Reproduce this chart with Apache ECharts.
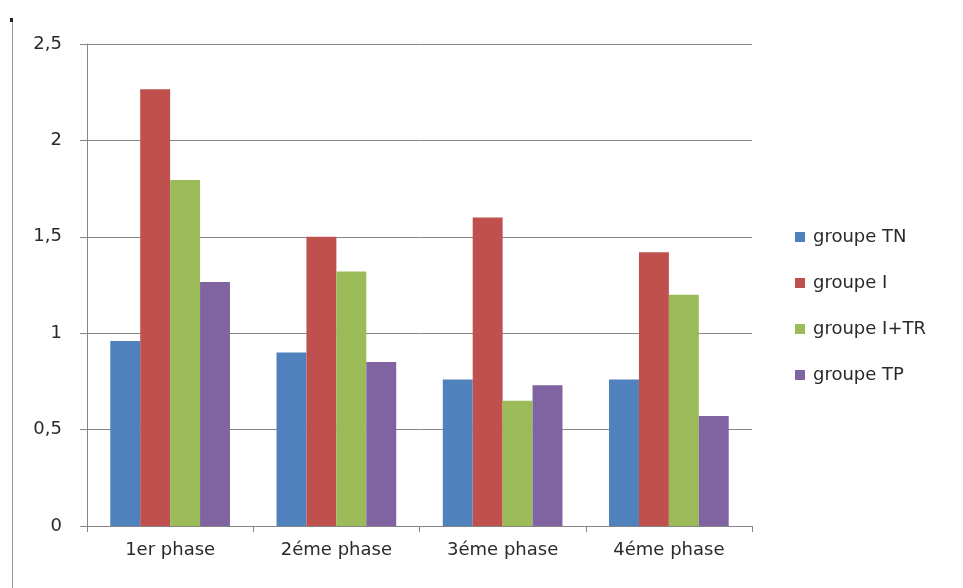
<!DOCTYPE html>
<html>
<head>
<meta charset="utf-8">
<script src="https://cdn.jsdelivr.net/npm/echarts@6/dist/echarts.min.js"></script>
<style>
  html, body { margin: 0; padding: 0; background: #fff; }
  #chart { width: 963px; height: 588px; }
</style>
</head>
<body>
<div id="chart"></div>
<script>
// Phases on the x axis
const phases = ['1er phase', '2éme phase', '3éme phase', '4éme phase'];

// One array per group
const groupeTN = [0.96, 0.90, 0.76, 0.76];
const groupeI = [2.265, 1.50, 1.60, 1.42];
const groupeITR = [1.795, 1.32, 0.65, 1.20];
const groupeTP = [1.265, 0.85, 0.73, 0.57];

const seriesNames = ['groupe TN', 'groupe I', 'groupe I+TR', 'groupe TP'];
const seriesData = [groupeTN, groupeI, groupeITR, groupeTP];
const colors = ['#4F81BD', '#C0504D', '#9BBB59', '#8064A2'];

const font = '"DejaVu Sans", "Noto Sans", sans-serif';
const textColor = '#2a2a2a';
const axisGray = '#868686';

const chart = echarts.init(document.getElementById('chart'), null, { renderer: 'canvas' });

chart.setOption({
  animation: false,
  backgroundColor: '#fff',
  color: colors,
  grid: { left: 87, right: 211, top: 44, bottom: 62, containLabel: false },
  legend: {
    orient: 'vertical',
    left: 795,
    top: 227,
    padding: 0,
    itemWidth: 10,
    itemHeight: 10,
    itemGap: 26,
    icon: 'rect',
    textStyle: { fontFamily: font, fontSize: 18, color: textColor, lineHeight: 20, padding: [0, 0, 0, 3] },
    data: seriesNames
  },
  xAxis: {
    type: 'category',
    data: phases,
    axisLine: { show: true, lineStyle: { color: axisGray, width: 1 } },
    axisTick: { show: true, length: 6, lineStyle: { color: axisGray } },
    axisLabel: { margin: 15, fontFamily: font, fontSize: 18, color: textColor },
    splitLine: { show: false }
  },
  yAxis: {
    type: 'value',
    min: 0,
    max: 2.5,
    interval: 0.5,
    axisLine: { show: true, lineStyle: { color: axisGray, width: 1 } },
    axisTick: { show: true, length: 7, lineStyle: { color: axisGray } },
    axisLabel: {
      margin: 25,
      fontFamily: font,
      fontSize: 18,
      color: textColor,
      formatter: v => String(v).replace('.', ',')
    },
    splitLine: { show: true, lineStyle: { color: axisGray, width: 1 } }
  },
  series: seriesNames.map((name, i) => ({
    name: name,
    type: 'bar',
    data: seriesData[i],
    barGap: '0%',
    barCategoryGap: '28%',
    itemStyle: { color: colors[i] }
  })),
  graphic: [
    {
      type: 'line',
      shape: { x1: 12.5, y1: 20, x2: 12.5, y2: 588 },
      style: { stroke: '#9a9a9a', lineWidth: 1 },
      silent: true
    },
    {
      type: 'rect',
      shape: { x: 10, y: 18, width: 3, height: 4 },
      style: { fill: '#222' },
      silent: true
    }
  ]
});
</script>
</body>
</html>
